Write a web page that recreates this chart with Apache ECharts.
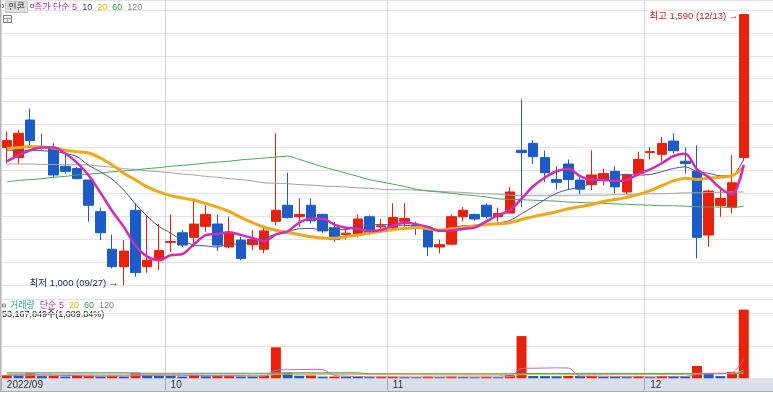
<!DOCTYPE html>
<html><head><meta charset="utf-8">
<script src="https://cdn.jsdelivr.net/npm/echarts@6/dist/echarts.min.js"></script>
<style>html,body{margin:0;padding:0;background:#fff}#c{width:773px;height:393px}</style>
</head><body><div id="c"></div>
<script>
// ---------- data ----------
const dates = ['09/13','09/14','09/15','09/16','09/19','09/20','09/21','09/22','09/23','09/26',
  '09/27','09/28','09/29','09/30','10/04','10/05','10/06','10/07','10/11','10/12',
  '10/13','10/14','10/17','10/18','10/19','10/20','10/21','10/24','10/25','10/26',
  '10/27','10/28','10/31','11/01','11/02','11/03','11/04','11/07','11/08','11/09',
  '11/10','11/11','11/14','11/15','11/16','11/17','11/18','11/21','11/22','11/23',
  '11/24','11/25','11/28','11/29','11/30','12/01','12/02','12/05','12/06','12/07',
  '12/08','12/09','12/12','12/13'];
const monthLabels = ['2022/09','10','11','12'];
const opens = [1300,1278,1360,1302,1300,1259,1254,1229,1160,1078,
  1040,1163,1040,1055,1093,1114,1104,1128,1133,1083,
  1098,1088,1078,1139,1174,1149,1174,1154,1125,1110,
  1109,1149,1127,1125,1139,1131,1125,1083,1089,1149,
  1154,1174,1149,1157,1294,1309,1278,1230,1264,1229,
  1219,1229,1248,1203,1243,1289,1285,1314,1270,1248,
  1109,1173,1169,1278];
const closes = [1315,1331,1315,1300,1240,1248,1232,1174,1114,1040,
  1074,1027,1054,1075,1095,1087,1133,1154,1087,1115,
  1058,1099,1118,1163,1147,1154,1140,1118,1099,1113,
  1144,1114,1129,1147,1145,1129,1083,1088,1149,1163,
  1144,1149,1156,1203,1289,1280,1245,1224,1230,1209,
  1240,1243,1214,1240,1274,1291,1309,1293,1265,1104,
  1205,1189,1223,1590];
const lows = [1265,1264,1305,1295,1235,1243,1232,1138,1098,1036,
  1000,1018,1027,1033,1072,1083,1083,1116,1074,1080,
  1054,1076,1069,1131,1145,1127,1134,1114,1094,1099,
  1104,1109,1114,1120,1127,1109,1063,1069,1087,1139,
  1141,1145,1138,1156,1170,1264,1225,1208,1208,1198,
  1207,1218,1200,1198,1238,1274,1269,1287,1243,1058,
  1083,1149,1157,1271];
const highs = [1335,1338,1385,1330,1309,1287,1257,1229,1169,1110,
  1098,1178,1152,1133,1154,1120,1189,1174,1154,1149,
  1105,1120,1127,1331,1245,1189,1189,1156,1138,1123,
  1154,1152,1144,1178,1178,1138,1127,1099,1154,1170,
  1156,1178,1169,1214,1405,1316,1293,1259,1274,1235,
  1294,1254,1259,1240,1291,1301,1323,1331,1300,1305,
  1208,1208,1283,1590];
const volumes = [2300000,2200000,3900000,1700000,1900000,1400000,1800000,1900000,1400000,1800000,
  1300000,4400000,2600000,2100000,1800000,1400000,2800000,1600000,1800000,1900000,
  1400000,1300000,2100000,24000000,4300000,2000000,2200000,1300000,1400000,1300000,
  1000000,900000,1100000,1200000,900000,800000,1200000,900000,1300000,1000000,
  800000,1100000,900000,2500000,32700000,1800000,1700000,1600000,1800000,1700000,
  1800000,1200000,1000000,900000,1500000,900000,1800000,1600000,1500000,9500000,
  3900000,1700000,4878500,53167849];
// moving-average values before enough visible history exists
const ma5Head = [1270,1283,1294,1300];
const ma10Head = [1294,1294,1294,1293,1291,1287,1280,1261,1247];
const ma20Head = [1298,1300,1302,1301,1299,1294,1291,1288,1277,1262,1244,1229,1214,1203,1195,1190,1185,1178,1170];
const ma60 = [1225,1228,1230,1232,1235,1237,1240,1242,1244,1247,
  1249,1251,1254,1256,1259,1261,1263,1266,1268,1270,
  1273,1275,1277,1279,1281,1274,1266,1258,1251,1244,
  1237,1230,1225,1220,1215,1209,1205,1203,1200,1197,
  1195,1192,1188,1187,1186,1185,1184,1183,1181,1180,
  1179,1178,1177,1176,1175,1174,1173,1173,1172,1171,
  1170,1170,1169,1172];
const ma120 = [1264,1264,1264,1263,1263,1263,1262,1262,1259,1257,
  1254,1252,1249,1247,1245,1242,1240,1237,1235,1232,
  1230,1227,1223,1222,1221,1219,1218,1216,1215,1214,
  1212,1211,1209,1208,1208,1207,1206,1204,1203,1202,
  1200,1199,1198,1196,1195,1195,1195,1195,1195,1196,
  1196,1196,1197,1197,1198,1199,1199,1200,1201,1201,
  1202,1202,1203,1203];
const volMa5Head = [2500000,2500000,2600000,2600000];
const volMa20Head = [2600000,2600000,2500000,2500000,2500000,2400000,2400000,2400000,2300000,2300000,
  2300000,2400000,2400000,2300000,2300000,2300000,2300000,2200000,2200000];
const volMa60 = [4300000,4300000,4300000,4300000,4300000,4300000,4300000,4300000,4300000,4300000,
  4300000,3900000,3900000,3900000,3900000,3900000,3900000,3900000,3900000,3900000,
  3900000,3900000,3900000,4300000,4300000,4300000,4300000,4300000,4300000,4300000,
  4300000,3400000,3400000,3400000,3400000,3400000,3400000,3400000,3400000,3400000,
  3400000,3400000,3400000,3400000,3800000,3800000,3800000,3800000,3800000,3800000,
  3800000,3800000,3800000,3800000,3800000,3800000,3800000,3800000,3800000,3900000,
  3900000,3900000,3900000,4700000];
const volMa120 = [3300000,3300000,3300000,3300000,3300000,3300000,3300000,3300000,3300000,3300000,
  3300000,3300000,3300000,3300000,3300000,3300000,3300000,3300000,3300000,3300000,
  3300000,3300000,3300000,3400000,3400000,3400000,3400000,3400000,3400000,3400000,
  3400000,3400000,3400000,3400000,3400000,3400000,3400000,3400000,3400000,3400000,
  3400000,3400000,3400000,3400000,3600000,3600000,3600000,3600000,3600000,3600000,
  3600000,3600000,3600000,3600000,3600000,3600000,3600000,3600000,3600000,3600000,
  3600000,3600000,3600000,4000000];

// ---------- derived ----------
function sma(src, n, head) {
  return src.map((v, i) => {
    if (i < n - 1) return head[i];
    let s = 0; for (let j = i - n + 1; j <= i; j++) s += src[j];
    return Math.round(s / n * 10) / 10;
  });
}
const ma5 = sma(closes, 5, ma5Head), ma10 = sma(closes, 10, ma10Head), ma20 = sma(closes, 20, ma20Head);
const vma5 = sma(volumes, 5, volMa5Head), vma20 = sma(volumes, 20, volMa20Head);
const ohlc = dates.map((d, i) => [opens[i], closes[i], lows[i], highs[i]]);
const monthStartIdx = dates.map((d, i) => (i === 0 || d.slice(0, 2) !== dates[i - 1].slice(0, 2)) ? i : -1).filter(i => i >= 0);
const isMonthStart = (i) => monthStartIdx.indexOf(i) >= 0;
let hiIdx = 0, loIdx = 0;
highs.forEach((h, i) => { if (h > highs[hiIdx]) hiIdx = i; });
lows.forEach((l, i) => { if (l < lows[loIdx]) loIdx = i; });
const lastV = volumes[volumes.length - 1], prevV = volumes[volumes.length - 2];
const volText = lastV.toLocaleString('en-US') + '주(' + (lastV / prevV * 100).toLocaleString('en-US', {minimumFractionDigits: 2, maximumFractionDigits: 2}) + '%)';

// ---------- style ----------
const UP = '#e8200c', DOWN = '#1b5cc8';
const C5 = '#d42bb8', C10 = '#4a5590', C20 = '#f0a818', C60 = '#48a860', C120 = '#a4a4a4';
const FONT = "'Liberation Sans','Noto Sans CJK KR',sans-serif";
const FS = 9;
const GRIDC = '#e4e4e4', VLINE = '#d8d8d8';
const N = dates.length;

const chart = echarts.init(document.getElementById('c'), null, {renderer: 'canvas'});
const xBase = {
  type: 'category', data: dates, max: N + 1, boundaryGap: true,
  axisLine: {show: false}, axisTick: {show: false}, axisLabel: {show: false},
  splitLine: {show: true, interval: (i) => isMonthStart(i), lineStyle: {color: VLINE, width: 1}}
};
const lineS = (name, data, color, width, xi, yi) => ({
  name, type: 'line', data, xAxisIndex: xi, yAxisIndex: yi, symbol: 'none', smooth: 0.3,
  lineStyle: {color, width}, itemStyle: {color}, z: 4, silent: true
});

chart.setOption({
  animation: false,
  backgroundColor: '#ffffff',
  textStyle: {fontFamily: FONT},
  grid: [
    {left: 1, right: 0, top: 0, height: 285},
    {left: 1, right: 0, top: 299.3, height: 79},
    {left: 1, right: 0, top: 285, height: 14.3}
  ],
  xAxis: [
    Object.assign({}, xBase, {gridIndex: 0}),
    Object.assign({}, xBase, {
      gridIndex: 1,
      axisTick: {show: true, interval: (i) => isMonthStart(i), length: 12, lineStyle: {color: '#a0a8b2'}},
      axisLabel: {show: true, interval: (i) => isMonthStart(i), align: 'left', margin: 2,
        fontSize: FS + 1, color: '#333', fontFamily: FONT,
        formatter: (v, i) => { const m = monthStartIdx.indexOf(i); return m >= 0 ? monthLabels[m] : ''; }}
    }),
    Object.assign({}, xBase, {gridIndex: 2})
  ],
  yAxis: [
    {gridIndex: 0, type: 'value', min: 1000, max: 1621.8, interval: 50, position: 'right',
      axisLine: {show: false}, axisTick: {show: false}, axisLabel: {show: false},
      splitLine: {show: true, lineStyle: {color: GRIDC}}},
    {gridIndex: 1, type: 'value', min: 0, max: 61150000, interval: 25000000, position: 'right',
      axisLine: {show: false}, axisTick: {show: false}, axisLabel: {show: false},
      splitLine: {show: true, lineStyle: {color: GRIDC}}},
    {gridIndex: 2, type: 'value', min: 0, max: 1, show: false}
  ],
  series: [
    {
      name: '인콘', type: 'candlestick', data: ohlc, xAxisIndex: 0, yAxisIndex: 0, barWidth: 10, z: 2,
      itemStyle: {color: UP, color0: DOWN, borderColor: UP, borderColor0: DOWN, borderWidth: 1},
      markPoint: {
        symbol: 'rect', symbolSize: 1, itemStyle: {color: 'rgba(0,0,0,0)'}, silent: true,
        data: [
          {coord: [dates[hiIdx], highs[hiIdx]],
            label: {show: true, position: 'left', distance: 5, offset: [0, 2], color: '#c3262a', fontSize: FS + 0.5, fontFamily: FONT,
              formatter: '최고 ' + highs[hiIdx].toLocaleString('en-US') + ' (' + dates[hiIdx] + ') →'}},
          {coord: [dates[loIdx], lows[loIdx]],
            label: {show: true, position: 'left', distance: 5, offset: [0, -2], color: '#1c2a8c', fontSize: FS + 0.5, fontFamily: FONT,
              formatter: '최저 ' + lows[loIdx].toLocaleString('en-US') + ' (' + dates[loIdx] + ') →'}}
        ]
      }
    },
    lineS('MA120', ma120, C120, 1, 0, 0),
    lineS('MA60', ma60, C60, 1, 0, 0),
    lineS('MA10', ma10, C10, 1, 0, 0),
    lineS('MA20', ma20, C20, 3, 0, 0),
    lineS('MA5', ma5, C5, 2.5, 0, 0),
    {
      name: '거래량', type: 'bar', data: volumes, xAxisIndex: 1, yAxisIndex: 1, barWidth: 10, z: 2,
      itemStyle: {color: (p) => (p.dataIndex === 0 || volumes[p.dataIndex] >= volumes[p.dataIndex - 1]) ? UP : DOWN}
    },
    lineS('VMA120', volMa120, C120, 1, 1, 1),
    lineS('VMA60', volMa60, C60, 1, 1, 1),
    lineS('VMA20', vma20, '#e2b21c', 1, 1, 1),
    lineS('VMA5', vma5, '#d060c8', 1, 1, 1)
  ],
  graphic: {elements: [
    {type: 'rect', shape: {x: 0, y: 379, width: 773, height: 12}, style: {fill: '#d8e0ea'}, z: -10, silent: true},
    {type: 'line', shape: {x1: 0, y1: 391.5, x2: 773, y2: 391.5}, style: {stroke: '#a7adb5', lineWidth: 1}, silent: true},
    {type: 'line', shape: {x1: 0, y1: 299.5, x2: 773, y2: 299.5}, style: {stroke: '#a2a2a2', lineWidth: 1}, silent: true},
    {type: 'line', shape: {x1: 0.5, y1: 0, x2: 0.5, y2: 392}, style: {stroke: '#b4b4b4', lineWidth: 1}, silent: true},
    // header legend
    {type: 'rect', shape: {x: 0.5, y: 4.5, width: 3, height: 3}, style: {fill: '#e6e6e6', stroke: '#8c8c8c', lineWidth: 1}, silent: true},
    {type: 'rect', shape: {x: 5.5, y: 1.5, width: 22, height: 11}, style: {fill: '#dcdcdc', stroke: '#c6c6c6', lineWidth: 1}, silent: true},
    {type: 'text', x: 16.5, y: 7.5, style: {text: '인콘', fill: '#1a1a1a', font: FS + 'px ' + FONT, align: 'center', verticalAlign: 'middle'}, silent: true},
    {type: 'rect', shape: {x: 30.5, y: 4.5, width: 3, height: 3}, style: {fill: '#e6e6e6', stroke: '#8c8c8c', lineWidth: 1}, silent: true},
    {type: 'text', x: 34, y: 7.5, silent: true, style: {
      text: '{m|종가 단순 5}  {a|10}  {b|20}  {c|60}  {d|120}', font: FS + 'px ' + FONT, verticalAlign: 'middle',
      rich: {m: {fill: '#c02cb0'}, a: {fill: '#33449a'}, b: {fill: '#e2b400'}, c: {fill: '#3a9a5a'}, d: {fill: '#8a8a8a'}}}},
    {type: 'rect', shape: {x: 3.5, y: 15.5, width: 8, height: 7}, style: {fill: '#f2f2f2', stroke: '#7c7c7c', lineWidth: 1}, silent: true},
    {type: 'line', shape: {x1: 3.5, y1: 18.5, x2: 11.5, y2: 18.5}, style: {stroke: '#9a9a9a', lineWidth: 1}, silent: true},
    {type: 'line', shape: {x1: 7.5, y1: 18.5, x2: 7.5, y2: 22.5}, style: {stroke: '#9a9a9a', lineWidth: 1}, silent: true},
    // volume legend
    {type: 'rect', shape: {x: 2.5, y: 304, width: 3, height: 3}, style: {fill: '#e6e6e6', stroke: '#8c8c8c', lineWidth: 1}, silent: true},
    {type: 'text', x: 10, y: 305.5, silent: true, style: {
      text: '{t|거래량}  {m|단순 5}  {b|20}  {c|60}  {d|120}', font: FS + 'px ' + FONT, verticalAlign: 'middle',
      rich: {t: {fill: '#2aa39c'}, m: {fill: '#c02cb0'}, b: {fill: '#e2b400'}, c: {fill: '#3a9a5a'}, d: {fill: '#8a8a8a'}}}},
    {type: 'text', x: 2, y: 315, silent: true, style: {text: volText, fill: '#222', font: FS + 'px ' + FONT, verticalAlign: 'middle'}}
  ]}
});
</script>
</body></html>
